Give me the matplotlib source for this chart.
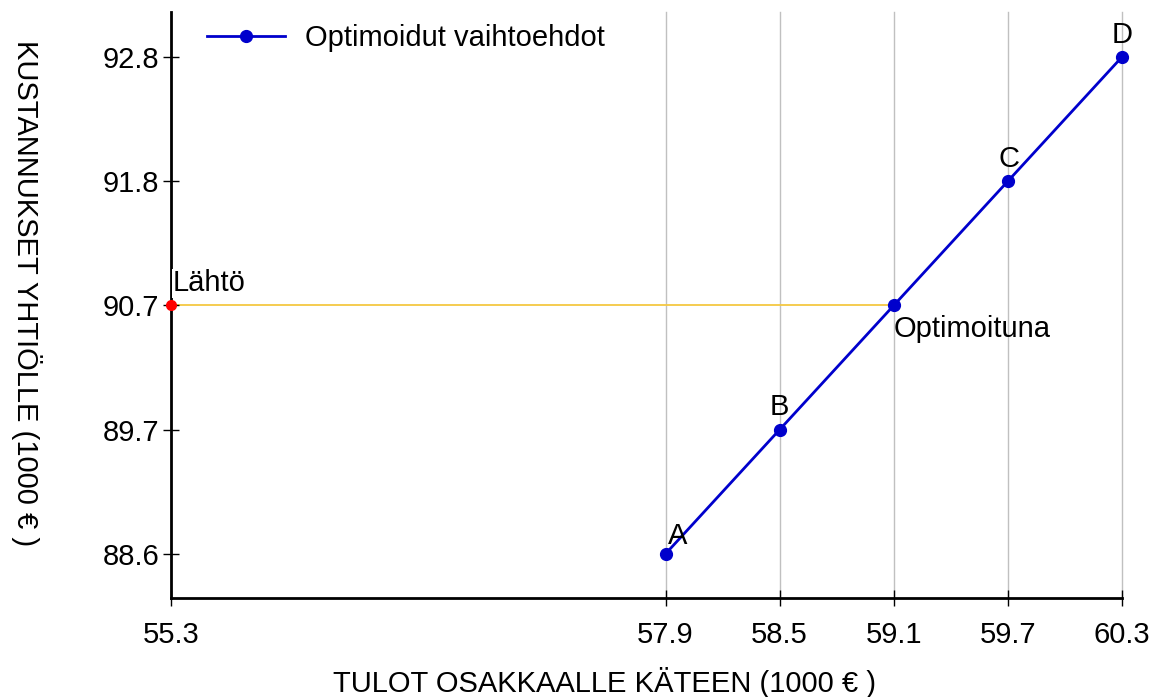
import matplotlib
matplotlib.use("Agg")
import matplotlib.pyplot as plt

plt.rcParams['font.family'] = ['Liberation Sans', 'DejaVu Sans']

# Data
opt_x = [57.9, 58.5, 59.1, 59.7, 60.3]
opt_y = [88.6, 89.65, 90.7, 91.75, 92.8]
opt_labels = ['A', 'B', 'Optimoituna', 'C', 'D']
start_x = 55.3
start_y = 90.7
start_label = 'Lähtö'
x_ticks = [55.3, 57.9, 58.5, 59.1, 59.7, 60.3]
x_ticklabels = ['55.3', '57.9', '58.5', '59.1', '59.7', '60.3']
y_ticks = opt_y
y_ticklabels = ['88.6', '89.7', '90.7', '91.8', '92.8']
legend_label = 'Optimoidut vaihtoehdot'
xlabel = 'TULOT OSAKKAALLE KÄTEEN (1000 € )'
ylabel = 'KUSTANNUKSET YHTIÖLLE (1000 € )'

fig = plt.figure(figsize=(11.53, 6.97), dpi=100)
ax = fig.add_axes([0.1483, 0.142, 0.9731 - 0.1483, 0.9828 - 0.142])

ax.set_xlim(55.3, 60.3)
ax.set_ylim(88.227, 93.18)

# vertical gray gridlines at the option points
for xv in opt_x:
    ax.axvline(xv, color='#c0c0c0', lw=1.0, zorder=0, clip_on=False)

# horizontal line from start to optimized
ax.plot([start_x, opt_x[2]], [start_y, opt_y[2]], color='#f5c842', lw=1.3, zorder=1)

ax.plot(opt_x, opt_y, color='#0000cc', lw=2, marker='o', ms=8.5,
        label=legend_label, zorder=3, clip_on=False)
ax.plot([start_x], [start_y], color='red', marker='o', ms=7, ls='none',
        zorder=7, clip_on=False)

fs = 21
bbox = dict(facecolor='white', edgecolor='none', pad=0.5)
offsets = {
    'A': (2, 3, 'left', 'bottom'),
    'B': (0, 6, 'center', 'bottom'),
    'Optimoituna': (0, -7, 'left', 'top'),
    'C': (1, 6, 'center', 'bottom'),
    'D': (0, 6, 'center', 'bottom'),
}
for xv, yv, lab in zip(opt_x, opt_y, opt_labels):
    dx, dy, ha, va = offsets[lab]
    ax.annotate(lab, (xv, yv), xytext=(dx, dy), textcoords='offset points',
                ha=ha, va=va, fontsize=fs, zorder=5, annotation_clip=False)
ax.annotate(start_label, (start_x, start_y), xytext=(1, 6), textcoords='offset points',
            ha='left', va='bottom', fontsize=fs, bbox=bbox, zorder=6)

for s in ['top', 'right']:
    ax.spines[s].set_visible(False)
for s in ['left', 'bottom']:
    ax.spines[s].set_linewidth(2)
    ax.spines[s].set_color('black')

ax.set_xticks(x_ticks)
ax.set_xticklabels(x_ticklabels)
ax.set_yticks(y_ticks)
ax.set_yticklabels(y_ticklabels)
ax.tick_params(axis='both', direction='inout', length=11, width=1, labelsize=fs,
               colors='black')
ax.tick_params(axis='x', pad=11)
ax.tick_params(axis='y', pad=3)

ax.set_xlabel(xlabel, fontsize=fs)
ax.xaxis.set_label_coords(0.456, -0.1604)
ax.xaxis.label.set_va('baseline')
ax.set_ylabel(ylabel, fontsize=fs, rotation=-90)
ax.yaxis.set_label_coords(-0.168, 0.521)

leg = ax.legend(loc='center left', bbox_to_anchor=(0.0379, 0.9556), frameon=False,
                fontsize=fs, handlelength=2.67, handletextpad=0.68,
                borderaxespad=0, borderpad=0)

fig.savefig('out.png', dpi=100)
